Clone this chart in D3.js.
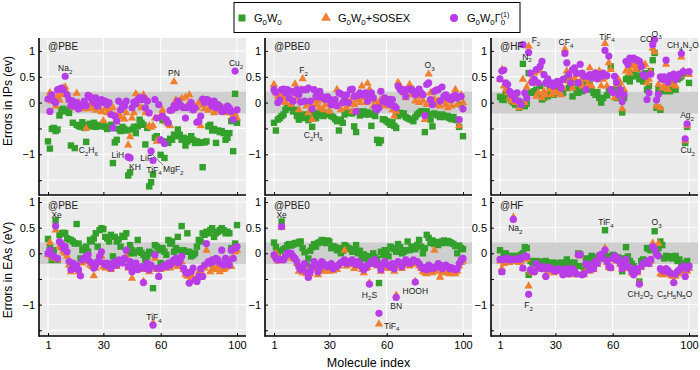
<!DOCTYPE html>
<html><head><meta charset="utf-8">
<script src="https://cdn.jsdelivr.net/npm/d3@7"></script>
<style>body{margin:0;background:#fff;} svg text{font-family:"Liberation Sans",Arial,Helvetica,sans-serif;}</style>
</head><body><svg id="c" width="700" height="370"></svg>
<script>
// ---------- data ----------
const seriesNames = ["G0W0", "G0W0+SOSEX", "G0W0Gamma"];
const xTickValues = [1, 30, 60, 100];
const yTickValues = [1, 0.5, 0, -0.5, -1, -1.5];
const yTickLabels = ["1", "0.5", "0", "", "\u22121", ""];
const panelLabels = ["@PBE", "@PBE0", "@HF", "@PBE", "@PBE0", "@HF"];

const ipPbeG0W0 = [-0.75,-0.89,-0.51,-0.49,-0.55,-0.52,-0.25,-0.14,-0.12,-0.17,-0.15,-0.20,-0.83,-0.39,-0.88,-0.43,-0.45,-0.47,-0.38,-0.49,-0.76,-0.43,-0.41,-0.46,-0.39,-0.47,-0.43,-0.45,-0.46,-0.43,-0.47,-0.51,-0.49,-0.43,-1.17,-0.77,-0.72,-0.51,-0.55,-0.47,-0.51,-0.54,-1.41,-1.35,-0.52,-0.47,-0.59,-0.46,-0.33,-0.39,-0.43,-0.81,-0.49,-1.62,-1.54,-1.39,-0.68,-0.65,-0.72,-1.01,-0.34,-1.07,-0.75,-0.78,-0.70,-0.72,-0.62,-0.65,-0.52,-0.62,-0.72,-0.68,-0.83,-0.75,-0.70,-0.65,-0.72,-0.78,-0.75,-0.78,-0.77,-1.25,-0.77,-0.75,-0.46,-0.43,-0.54,-0.51,-0.78,-0.54,-0.57,-0.55,-0.59,-0.72,-0.68,-0.59,-0.36,-0.94,0.17,-0.39];
const ipPbeSosex = [0.07,0.19,0.03,0.09,-0.07,0.12,0.05,0.15,0.28,0.30,0.18,0.05,-0.05,0.02,-0.10,0.18,0.00,-0.08,-0.12,-0.05,-0.50,-0.12,-0.05,0.10,-0.10,-0.15,-0.05,-0.10,-0.18,-0.35,-0.12,-0.20,-0.15,-0.22,-0.10,-0.25,-0.30,-0.22,-0.28,-0.15,-0.32,-0.20,-0.82,-0.66,-0.30,-0.20,0.17,-0.05,0.10,-0.10,0.15,-0.20,0.05,-0.45,-0.48,-0.45,-0.30,-0.75,-0.72,-0.25,-0.15,-0.30,-0.38,-0.42,-0.45,-0.10,0.40,0.05,-0.05,0.02,0.08,-0.10,0.10,-0.05,0.15,0.00,-0.15,-0.08,-0.10,0.00,-0.45,-0.05,-0.12,0.05,-0.15,-0.05,-0.10,-0.20,0.00,-0.15,-0.10,-0.18,-0.12,-0.20,-0.15,-0.10,-0.20,-0.25,-0.22,-0.30];
const ipPbeGamma = [0.07,-0.17,0.15,0.03,0.00,0.25,0.26,0.28,0.25,0.51,0.15,0.06,-0.06,0.03,-0.07,0.00,-0.12,-0.04,-0.06,0.03,-0.06,0.14,0.11,0.06,0.00,0.09,-0.07,0.03,0.06,0.00,0.03,-0.04,0.00,-0.23,-0.49,-0.26,-0.36,0.03,-0.14,-0.04,-0.07,0.03,-1.05,-1.07,-0.10,0.01,-0.02,0.06,0.09,0.06,0.09,-0.10,0.03,-0.20,-0.94,-1.12,0.06,-0.30,-0.04,-0.72,-0.26,-0.79,-0.33,-0.39,-0.15,-0.14,-0.06,-0.10,0.03,-0.04,-0.07,-0.10,-0.30,-0.10,-0.07,0.00,-0.14,-0.10,-0.38,-0.36,-0.26,0.07,0.00,0.06,0.05,0.00,-0.07,0.03,-0.10,-0.04,-0.07,-0.17,-0.14,-0.15,-0.07,-0.10,-0.17,-0.33,0.61,-0.14];

const ipPbe0G0W0 = [-0.39,-0.54,-0.33,-0.30,-0.26,-0.23,-0.14,-0.07,-0.10,-0.08,-0.17,-0.14,-0.26,-0.33,-0.23,-0.30,-0.28,-0.23,-0.34,-0.21,-0.47,-0.20,-0.30,-0.25,-0.21,-0.23,-0.26,-0.23,-0.20,-0.21,-0.26,-0.28,-0.32,-0.36,-0.54,-0.33,-0.39,-0.23,-0.17,-0.20,-0.19,-0.21,-0.46,-0.57,-0.17,-0.25,-0.20,-0.17,-0.23,-0.19,-0.23,-0.45,-0.21,-0.26,-0.72,-0.78,-0.73,-0.32,-0.33,-0.36,-0.39,-0.43,-0.38,-0.45,-0.49,-0.26,-0.20,-0.23,-0.21,-0.28,-0.30,-0.32,-0.33,-0.36,-0.28,-0.23,-0.20,-0.17,-0.17,-0.57,-0.17,-0.23,-0.33,-0.46,-0.21,-0.23,-0.25,-0.28,-0.23,-0.25,-0.28,-0.26,-0.30,-0.32,-0.28,-0.33,-0.34,-0.47,-0.04,-0.65];
const ipPbe0Sosex = [0.35,0.19,0.12,0.03,0.15,0.09,0.00,0.15,0.06,-0.04,0.03,0.36,0.09,-0.14,0.25,0.46,0.00,-0.07,-0.20,-0.04,-0.33,0.06,-0.04,0.03,-0.10,0.06,-0.14,-0.04,0.03,-0.17,-0.07,0.03,-0.04,0.25,-0.07,-0.14,0.00,0.06,-0.10,-0.04,0.03,-0.17,-0.04,0.12,0.06,0.00,0.32,0.09,0.00,0.37,0.25,0.15,-0.07,0.03,-0.10,0.00,0.06,-0.04,0.03,-0.07,0.00,0.06,-0.14,-0.26,-0.17,0.39,0.32,0.25,0.19,0.09,0.25,0.35,0.15,0.25,0.03,0.12,0.00,0.15,0.03,-0.33,-0.04,0.55,0.19,0.00,0.06,-0.04,0.03,-0.07,0.03,0.06,-0.04,-0.10,0.03,-0.07,0.09,0.25,-0.04,-0.45,0.15,0.00];
const ipPbe0Gamma = [0.25,0.20,0.00,0.05,0.25,0.26,0.19,0.25,0.09,0.22,0.03,0.19,0.25,0.15,0.01,0.25,0.03,0.25,0.28,0.03,-0.12,0.25,0.12,0.11,0.22,0.12,0.09,0.06,0.11,0.07,-0.04,0.03,0.06,-0.06,0.19,0.17,0.00,0.09,0.15,0.00,0.25,0.26,0.12,-0.17,0.14,0.19,0.15,0.15,0.19,0.03,0.12,0.19,0.09,-0.10,-0.14,-0.10,0.22,0.03,0.09,0.00,0.06,-0.04,0.06,-0.07,-0.10,0.32,0.26,0.22,0.25,0.12,0.25,0.26,0.25,0.22,0.15,0.19,0.26,0.19,0.15,-0.25,0.35,0.38,0.06,-0.04,0.22,0.24,0.25,0.03,0.30,0.12,0.15,0.09,0.09,0.06,0.12,0.14,0.09,-0.33,0.12,-0.12];

const ipHfG0W0 = [0.11,0.06,0.05,0.15,0.09,0.12,0.03,0.00,-0.04,0.00,-0.10,0.00,0.75,-0.07,-0.02,0.57,0.19,0.20,0.22,0.25,0.15,0.32,0.06,0.09,0.15,0.12,0.32,0.20,0.15,0.25,0.22,0.19,0.25,0.19,0.45,0.48,0.28,0.32,0.12,0.38,0.25,0.19,0.32,0.22,0.25,0.38,0.28,0.35,0.25,0.19,0.15,0.20,0.09,0.00,0.09,0.51,0.14,0.25,0.70,0.25,0.19,0.09,0.32,0.22,-0.19,0.09,0.45,0.48,0.41,0.51,0.57,0.51,0.64,0.45,0.51,0.41,0.57,0.25,0.32,0.61,0.82,0.96,-0.10,0.25,-0.14,0.25,0.22,0.32,0.28,0.22,0.32,0.38,0.25,0.45,0.48,0.51,0.57,-0.78,-0.47,0.38];
const ipHfSosex = [0.45,0.64,0.32,0.25,0.19,0.09,0.03,0.09,0.00,0.06,-0.10,-0.04,0.45,0.00,0.30,1.09,0.41,0.38,0.57,0.12,0.19,0.61,0.09,0.22,0.15,0.35,0.25,0.15,0.25,0.19,0.32,0.22,0.15,0.28,1.03,0.61,0.41,0.45,0.28,0.48,0.38,0.54,0.41,0.32,0.48,0.45,0.35,0.67,0.32,0.48,0.57,0.45,0.61,0.32,0.45,1.14,0.32,0.77,0.64,0.22,0.09,0.35,0.45,0.38,-0.12,0.25,0.61,0.67,0.57,0.70,0.74,0.64,0.72,0.67,0.77,0.70,0.74,0.38,0.45,0.60,1.05,0.98,-0.07,0.35,-0.10,0.28,0.32,0.74,0.25,0.41,0.35,0.45,0.32,0.51,0.52,0.88,0.61,-0.74,-0.45,0.54];
const ipHfGamma = [0.46,0.61,0.63,0.38,0.35,0.22,0.15,0.17,0.06,0.19,0.03,-0.04,1.12,0.19,0.09,0.97,0.57,0.39,0.45,0.64,0.38,0.70,0.80,0.54,0.38,0.46,0.35,0.38,0.32,0.35,0.41,0.38,0.28,0.45,0.95,0.77,0.54,0.38,0.64,0.67,0.57,0.38,0.74,0.57,0.51,0.25,0.51,0.54,0.48,0.54,0.57,0.46,0.54,0.51,0.57,1.01,0.52,0.90,0.25,0.20,0.51,0.39,0.15,0.25,0.02,0.15,0.80,0.74,0.86,0.84,0.86,0.83,0.82,0.80,0.70,0.54,0.51,0.06,0.19,0.55,1.12,1.22,0.05,0.16,0.50,0.45,0.50,0.82,0.40,0.52,0.50,0.55,0.45,0.50,0.55,0.95,0.60,-0.70,-0.41,0.60];

const eaPbeG0W0 = [0.28,0.10,-0.13,0.06,0.64,-0.13,0.36,0.39,0.40,0.39,0.29,0.27,0.26,0.23,0.19,0.57,0.19,-0.10,0.06,0.10,0.13,0.03,0.26,0.23,0.29,0.39,0.13,0.45,0.49,0.47,0.32,0.29,0.23,0.36,-0.06,0.32,0.23,0.27,0.13,0.34,0.32,0.39,0.00,0.16,0.06,0.00,0.03,0.26,0.06,0.01,-0.03,-0.13,-0.06,0.03,0.00,-0.68,0.16,0.13,0.06,-0.19,0.10,0.03,-0.03,0.26,0.19,0.23,0.03,0.10,0.32,0.06,0.53,0.06,0.03,0.39,0.03,-0.06,-0.03,0.00,0.13,0.26,0.23,0.39,0.36,0.42,0.39,0.45,0.49,0.32,0.39,0.42,0.45,0.49,0.45,0.39,0.42,0.39,0.10,0.06,0.19,0.55];
const eaPbeSosex = [-0.03,0.21,-0.06,-0.10,0.45,-0.13,0.13,0.10,0.03,0.00,-0.06,-0.23,-0.36,-0.26,-0.32,-0.26,-0.36,-0.42,-0.19,-0.16,-0.10,-0.10,-0.23,-0.26,-0.44,-0.29,-0.19,-0.16,-0.06,-0.26,-0.29,-0.23,-0.29,-0.32,-0.23,-0.19,-0.26,-0.16,-0.19,-0.13,-0.13,-0.06,-0.29,-0.23,-0.49,-0.32,-0.26,-0.32,-0.32,-0.29,-0.55,-0.32,-0.26,-0.36,-0.29,-1.36,-0.10,-0.32,-0.45,-0.32,-0.29,-0.26,-0.29,-0.26,-0.29,-0.23,-0.19,-0.16,-0.26,-0.23,-0.16,-0.32,-0.42,-0.45,-0.55,-0.42,-0.49,-0.52,-0.49,-0.36,-0.32,-0.42,-0.29,0.06,-0.23,-0.36,-0.32,-0.29,-0.32,-0.26,-0.36,-0.29,-0.32,-0.29,-0.26,-0.13,-0.26,-0.10,0.03,0.06];
const eaPbeGamma = [0.00,0.06,-0.03,-0.06,0.53,-0.10,0.23,0.19,0.10,0.13,0.03,-0.16,-0.32,-0.19,-0.29,-0.23,-0.32,-0.44,-0.13,-0.10,-0.06,-0.03,-0.16,-0.19,-0.29,-0.23,-0.16,-0.06,0.03,-0.19,-0.23,-0.19,-0.26,-0.29,-0.19,-0.16,-0.23,-0.13,-0.16,-0.19,-0.10,0.06,-0.26,-0.16,-0.36,-0.26,-0.19,-0.32,-0.29,-0.26,-0.57,-0.29,-0.19,-0.32,-0.23,-1.40,-0.03,-0.29,-0.45,-0.29,-0.26,-0.23,-0.26,-0.19,-0.23,-0.16,-0.13,-0.10,-0.19,-0.16,-0.06,-0.29,-0.36,-0.39,-0.58,-0.36,-0.29,-0.52,-0.55,-0.45,-0.30,-0.45,-0.23,0.19,-0.16,-0.19,-0.13,-0.16,-0.10,-0.13,-0.19,0.06,-0.23,-0.10,-0.16,-0.23,0.06,-0.10,0.10,0.13];

const eaPbe0G0W0 = [0.21,0.12,0.00,0.05,0.62,0.08,0.10,0.16,0.18,0.15,0.17,0.20,0.19,0.22,0.23,0.10,0.02,-0.23,-0.10,0.05,0.12,0.18,0.13,0.20,0.22,0.26,0.24,0.20,0.25,0.23,0.10,0.14,0.12,0.06,0.10,0.00,0.05,0.16,0.13,0.10,0.08,0.03,0.08,0.16,0.00,0.05,-0.10,-0.02,-0.05,-0.12,-0.06,-0.10,0.00,-0.08,-0.12,-0.58,0.03,-0.03,0.06,0.00,-0.06,0.13,0.10,0.08,0.03,0.18,0.12,0.00,0.03,0.06,0.23,0.06,0.13,0.10,0.08,0.16,0.26,0.13,0.00,0.10,0.36,0.30,0.20,0.25,0.18,0.22,0.16,0.20,0.23,0.25,0.20,0.24,0.22,0.20,0.18,0.14,0.00,0.15,0.10,0.08];
const eaPbe0Sosex = [-0.05,0.00,-0.15,-0.10,0.50,-0.10,-0.10,-0.05,-0.02,-0.06,-0.10,-0.12,-0.20,-0.35,-0.30,-0.38,-0.25,-0.40,-0.45,-0.40,-0.30,-0.20,-0.28,-0.42,-0.35,-0.22,-0.35,-0.30,-0.32,-0.35,-0.30,-0.34,-0.30,-0.32,-0.25,-0.20,-0.15,0.06,-0.25,-0.22,-0.20,-0.18,-0.30,-0.26,-0.20,-0.25,-0.32,-0.38,-0.30,-0.28,-0.58,-0.20,-0.22,-0.15,-0.25,-1.38,-0.35,-0.22,-0.20,-0.28,-0.30,-0.30,-0.25,-0.35,-0.82,-0.20,-0.25,-0.30,-0.22,-0.18,-0.20,-0.25,-0.22,-0.20,-0.55,-0.20,-0.25,-0.30,-0.35,-0.38,-0.40,-0.30,-0.35,-0.38,0.06,-0.35,-0.30,-0.47,-0.38,-0.35,-0.32,-0.38,-0.40,-0.35,-0.38,-0.40,-0.35,-0.25,-0.18,-0.15];
const eaPbe0Gamma = [-0.03,-0.10,-0.13,-0.12,0.52,-0.13,-0.05,0.00,0.01,0.00,-0.06,-0.10,-0.16,-0.26,-0.32,-0.30,-0.20,-0.36,-0.47,-0.36,-0.26,-0.16,-0.22,-0.36,-0.28,-0.16,-0.20,-0.23,-0.26,-0.23,-0.20,-0.30,-0.26,-0.25,-0.22,-0.18,-0.16,-0.13,-0.20,-0.16,-0.18,-0.13,-0.20,-0.22,-0.16,-0.20,-0.26,-0.32,-0.28,-0.23,-0.60,-0.16,-0.20,-0.13,-0.22,-1.17,-0.32,-0.20,-0.16,-0.22,-0.23,-0.26,-0.20,-0.30,-0.86,-0.16,-0.20,-0.26,-0.18,-0.13,-0.16,-0.20,-0.18,-0.13,-0.56,-0.16,-0.20,-0.26,-0.30,-0.28,-0.32,-0.23,-0.26,-0.30,-0.28,-0.26,-0.20,-0.23,-0.30,-0.26,-0.23,-0.26,-0.30,-0.28,-0.30,-0.32,-0.30,-0.20,-0.13,-0.10];

const eaHfG0W0 = [0.06,-0.36,-0.05,0.00,-0.05,-0.08,-0.10,-0.05,-0.07,-0.10,-0.05,-0.03,0.00,0.12,0.10,-0.42,-0.15,-0.18,-0.20,-0.15,-0.18,-0.16,-0.20,-0.20,-0.15,-0.18,-0.20,-0.22,-0.18,-0.20,-0.25,-0.20,-0.18,-0.25,-0.20,-0.12,-0.18,-0.25,-0.20,-0.18,-0.25,0.00,-0.02,-0.25,-0.35,-0.10,-0.12,-0.15,-0.05,-0.12,-0.08,-0.15,-0.05,-0.08,-0.02,0.45,-0.10,-0.06,-0.08,-0.03,-0.05,-0.12,-0.08,-0.15,-0.35,-0.10,0.12,-0.06,-0.15,-0.20,-0.25,-0.30,-0.35,-0.55,-0.15,-0.12,-0.15,0.10,0.08,0.06,0.12,0.43,0.08,0.10,0.23,0.16,-0.10,-0.05,-0.08,-0.06,-0.10,-0.07,-0.05,-0.15,-0.12,-0.20,-0.22,-0.20,-0.15,-0.25];
const eaHfSosex = [-0.15,-0.30,-0.20,-0.15,-0.12,-0.18,-0.15,0.70,-0.15,-0.15,-0.18,-0.15,-0.30,-0.08,-0.12,-0.64,-0.35,-0.38,-0.35,-0.25,-0.28,-0.30,-0.32,-0.30,-0.42,-0.32,-0.30,-0.35,-0.38,-0.36,-0.35,-0.33,-0.35,-0.40,-0.38,-0.32,-0.42,-0.40,-0.35,-0.38,-0.42,-0.02,-0.05,-0.40,-0.42,-0.22,-0.28,-0.35,-0.25,-0.32,-0.18,-0.22,-0.08,-0.05,-0.12,0.10,-0.18,-0.28,-0.30,-0.12,-0.08,-0.15,-0.12,-0.22,-0.32,-0.22,-0.15,-0.28,-0.30,-0.38,-0.40,-0.32,-0.38,-0.58,-0.28,-0.22,-0.20,-0.18,-0.22,-0.15,0.20,0.12,0.00,0.19,-0.40,-0.42,-0.40,-0.38,-0.40,-0.42,-0.45,-0.55,-0.45,-0.40,-0.38,-0.35,-0.30,-0.42,-0.35,-0.30];
const eaHfGamma = [-0.12,-0.36,-0.12,-0.10,-0.10,-0.13,-0.12,0.66,-0.12,-0.10,-0.12,-0.10,-0.29,-0.05,-0.06,-0.80,-0.32,-0.35,-0.36,-0.20,-0.25,-0.28,-0.30,-0.26,-0.45,-0.30,-0.28,-0.30,-0.32,-0.35,-0.33,-0.30,-0.32,-0.42,-0.35,-0.30,-0.40,-0.38,-0.30,-0.35,-0.40,-0.03,-0.03,-0.42,-0.40,-0.20,-0.25,-0.32,-0.22,-0.30,-0.15,-0.20,-0.05,-0.02,-0.10,0.06,-0.15,-0.25,-0.28,-0.10,-0.05,-0.13,-0.10,-0.20,-0.30,-0.20,-0.12,-0.25,-0.28,-0.35,-0.42,-0.30,-0.35,-0.60,-0.25,-0.20,-0.18,-0.15,-0.20,-0.12,0.13,0.08,-0.02,-0.05,-0.30,-0.32,-0.35,-0.30,-0.33,-0.38,-0.40,-0.57,-0.40,-0.35,-0.32,-0.28,-0.25,-0.45,-0.30,-0.25];

// ---------- layout ----------
const colors = ["#33a02c", "#f07f2e", "#b83ce8"];
const colLefts = [39, 265, 491];
const panelW = 207;
const rows = [
  {top: 38, bottom: 195, y0: 102.6, k: 51.7},
  {top: 197, bottom: 336, y0: 253.3, k: 51.3}
];
const panels = [
  {r:0, c:0, s:[ipPbeG0W0, ipPbeSosex, ipPbeGamma]},
  {r:0, c:1, s:[ipPbe0G0W0, ipPbe0Sosex, ipPbe0Gamma]},
  {r:0, c:2, s:[ipHfG0W0, ipHfSosex, ipHfGamma]},
  {r:1, c:0, s:[eaPbeG0W0, eaPbeSosex, eaPbeGamma]},
  {r:1, c:1, s:[eaPbe0G0W0, eaPbe0Sosex, eaPbe0Gamma]},
  {r:1, c:2, s:[eaHfG0W0, eaHfSosex, eaHfGamma]}
];
const annotations = [
  {p:0,s:2,i:10,t:"Na2",dx:0,dy:-5,a:"middle"},
  {p:0,s:1,i:67,t:"PN",dx:0,dy:-6,a:"middle"},
  {p:0,s:2,i:99,t:"Cu2",dx:1,dy:-5,a:"middle"},
  {p:0,s:0,i:15,t:"C2H6",dx:4,dy:5,a:"start"},
  {p:0,s:2,i:43,t:"LiH",dx:-4,dy:1,a:"end"},
  {p:0,s:2,i:44,t:"KH",dx:-1,dy:12,a:"start"},
  {p:0,s:2,i:55,t:"LiF",dx:1,dy:10,a:"end"},
  {p:0,s:2,i:56,t:"TiF4",dx:1,dy:12,a:"middle"},
  {p:0,s:2,i:55,t:"MgF2",dx:12,dy:21,a:"start"},
  {p:1,s:1,i:16,t:"F2",dx:1,dy:-5.5,a:"middle"},
  {p:1,s:1,i:82,t:"O3",dx:1,dy:-6,a:"middle"},
  {p:1,s:0,i:21,t:"C2H6",dx:1,dy:11.5,a:"middle"},
  {p:2,s:1,i:16,t:"F2",dx:3,dy:-3,a:"start"},
  {p:2,s:2,i:13,t:"N2",dx:4,dy:15,a:"middle"},
  {p:2,s:1,i:35,t:"CF4",dx:1,dy:-4,a:"middle"},
  {p:2,s:1,i:56,t:"TiF4",dx:2,dy:-4,a:"middle"},
  {p:2,s:2,i:81,t:"CO",dx:0,dy:-3,a:"end"},
  {p:2,s:2,i:82,t:"O3",dx:2,dy:-3,a:"middle"},
  {p:2,s:2,i:96,t:"CH4N2O",dx:1.5,dy:-5,a:"middle"},
  {p:2,s:2,i:99,t:"Ag2",dx:0,dy:-5.5,a:"middle"},
  {p:2,s:2,i:98,t:"Cu2",dx:2.5,dy:14.5,a:"middle"},
  {p:3,s:0,i:5,t:"Xe",dx:1,dy:-2.5,a:"middle"},
  {p:3,s:2,i:56,t:"TiF4",dx:1,dy:-5,a:"middle"},
  {p:4,s:0,i:5,t:"Xe",dx:0,dy:-3,a:"middle"},
  {p:4,s:2,i:51,t:"H2S",dx:0,dy:13.5,a:"middle"},
  {p:4,s:1,i:56,t:"TiF4",dx:5,dy:4.5,a:"start"},
  {p:4,s:2,i:65,t:"BN",dx:0,dy:12,a:"middle"},
  {p:4,s:2,i:75,t:"HOOH",dx:0,dy:11.5,a:"middle"},
  {p:5,s:2,i:8,t:"Na2",dx:2,dy:12,a:"middle"},
  {p:5,s:2,i:16,t:"F2",dx:0,dy:14,a:"middle"},
  {p:5,s:0,i:56,t:"TiF4",dx:1,dy:-5,a:"middle"},
  {p:5,s:0,i:82,t:"O3",dx:2,dy:-6,a:"middle"},
  {p:5,s:2,i:74,t:"CH2O2",dx:1,dy:12.5,a:"middle"},
  {p:5,s:2,i:92,t:"C5H5N5O",dx:1,dy:14,a:"middle"}
];

const svg = d3.select("#c");
const FONT = '"Liberation Sans", Arial, Helvetica, sans-serif';

function richText(sel, str, fs) {
  const parts = str.match(/\d+|\D+/g);
  let shifted = false;
  parts.forEach(p => {
    const isSub = /^\d+$/.test(p);
    const t = sel.append("tspan").text(p);
    if (isSub) { t.attr("font-size", fs * 0.72); if (!shifted) { t.attr("dy", fs * 0.3); shifted = true; } }
    else { t.attr("font-size", fs); if (shifted) { t.attr("dy", -fs * 0.3); shifted = false; } }
  });
}

const scales = panels.map(p => {
  const row = rows[p.r];
  const left = colLefts[p.c];
  const x = d3.scaleLinear().domain([1, 100]).range([left + 9, left + 198]);
  const y = d3.scaleLinear().domain([-1, 1]).range([row.y0 + row.k, row.y0 - row.k]);
  return {x, y, left, row};
});

const triangle = d3.symbol().type(d3.symbolTriangle).size(30);
const circle = 3.6, sq = 6.4;

panels.forEach((p, pi) => {
  const {x, y, left, row} = scales[pi];
  const g = svg.append("g");
  g.append("rect").attr("x", left).attr("y", row.top).attr("width", panelW).attr("height", row.bottom - row.top).attr("fill", "#ebebeb");
  g.selectAll(".gy").data(yTickValues).join("line")
    .attr("x1", left).attr("x2", left + panelW).attr("y1", d => y(d)).attr("y2", d => y(d))
    .attr("stroke", "#fff").attr("stroke-width", 1);
  g.selectAll(".gx").data(xTickValues).join("line")
    .attr("x1", d => x(d)).attr("x2", d => x(d)).attr("y1", row.top).attr("y2", row.bottom)
    .attr("stroke", "#fff").attr("stroke-width", 1);
  g.append("rect").attr("x", left).attr("width", panelW).attr("y", y(0.21)).attr("height", y(-0.21) - y(0.21)).attr("fill", "#cfcfcf");
  const idx = d3.range(1, 101);
  g.append("g").selectAll("rect").data(idx).join("rect")
    .attr("x", i => x(i) - sq / 2).attr("y", i => y(p.s[0][i - 1]) - sq / 2)
    .attr("width", sq).attr("height", sq).attr("fill", colors[0]);
  g.append("g").selectAll("path").data(idx).join("path")
    .attr("d", triangle).attr("transform", i => `translate(${x(i)},${y(p.s[1][i - 1])})`)
    .attr("fill", colors[1]);
  g.append("g").selectAll("circle").data(idx).join("circle")
    .attr("cx", i => x(i)).attr("cy", i => y(p.s[2][i - 1])).attr("r", circle).attr("fill", colors[2]);
  const ya = g.append("g").attr("transform", `translate(${left},0)`)
    .call(d3.axisLeft(y).tickValues(yTickValues).tickFormat((d, k) => yTickLabels[k]).tickSize(-3).tickSizeOuter(0).tickPadding(4));
  ya.select(".domain").remove();
  ya.selectAll("text").attr("font-size", 11).attr("font-family", FONT).attr("fill", "#000");
  ya.selectAll("line").attr("stroke", "#000");
  const xa = g.append("g").attr("transform", `translate(0,${row.bottom})`)
    .call(d3.axisBottom(x).tickValues(xTickValues).tickFormat(p.r === 1 ? d3.format("d") : () => "").tickSize(-3).tickSizeOuter(0).tickPadding(5.5));
  xa.select(".domain").remove();
  xa.selectAll("text").attr("font-size", 11).attr("font-family", FONT).attr("fill", "#000");
  xa.selectAll("line").attr("stroke", "#000");
  g.append("line").attr("x1", left).attr("x2", left).attr("y1", row.top).attr("y2", row.bottom + 0.8).attr("stroke", "#000").attr("stroke-width", 1.6);
  g.append("line").attr("x1", left).attr("x2", left + panelW).attr("y1", row.bottom).attr("y2", row.bottom).attr("stroke", "#000").attr("stroke-width", 1.6);
  g.append("text").attr("x", left + 9).attr("y", row.top + (p.r === 0 ? 12 : 11.5)).attr("font-size", 10).attr("fill", "#222").text(panelLabels[pi]);
});

annotations.forEach(a => {
  const {x, y} = scales[a.p];
  const px = x(a.i), py = y(panels[a.p].s[a.s][a.i - 1]);
  const t = svg.append("text").attr("x", px + a.dx).attr("y", py + a.dy).attr("text-anchor", a.a).attr("fill", "#222");
  richText(t, a.t, 8.5);
});
{
  const {x, y} = scales[0];
  const px = x(55), py = y(ipPbeGamma[54]);
  svg.append("line").attr("x1", px + 1).attr("y1", py + 3).attr("x2", px + 12).attr("y2", py + 14).attr("stroke", "#444").attr("stroke-width", 0.7);
}

svg.append("text").attr("transform", "translate(12,101) rotate(-90)").attr("text-anchor", "middle").attr("font-size", 12).text("Errors in IPs (ev)");
svg.append("text").attr("transform", "translate(12,270) rotate(-90)").attr("text-anchor", "middle").attr("font-size", 12).text("Errors in EAs (eV)");
svg.append("text").attr("x", 368.5).attr("y", 367).attr("text-anchor", "middle").attr("font-size", 12.5).text("Molecule index");

const lg = svg.append("g");
lg.append("rect").attr("x", 234).attr("y", 2.5).attr("width", 286).attr("height", 30).attr("fill", "#fff").attr("stroke", "#000").attr("stroke-width", 1);
const ly = 18;
lg.append("rect").attr("x", 242 - 3.5).attr("y", ly - 3.5).attr("width", 7).attr("height", 7).attr("fill", colors[0]);
lg.append("path").attr("d", d3.symbol().type(d3.symbolTriangle).size(42)).attr("transform", `translate(326,${ly})`).attr("fill", colors[1]);
lg.append("circle").attr("cx", 454).attr("cy", ly).attr("r", 4).attr("fill", colors[2]);
const lt1 = lg.append("text").attr("x", 254).attr("y", ly + 4).attr("fill", "#000");
richText(lt1, "G0W0", 11);
const lt2 = lg.append("text").attr("x", 338).attr("y", ly + 4).attr("fill", "#000");
richText(lt2, "G0W0+SOSEX", 11);
const lt3 = lg.append("text").attr("x", 467).attr("y", ly + 4).attr("fill", "#000");
richText(lt3, "G0W0", 11);
lt3.append("tspan").attr("font-size", 11).attr("dy", -11 * 0.3).text("\u0393");
lt3.append("tspan").attr("font-size", 8).attr("dy", 11 * 0.3).text("0");
lt3.append("tspan").attr("font-size", 7).attr("dx", -4.5).attr("dy", -8.5).text("(1)");
</script></body></html>
